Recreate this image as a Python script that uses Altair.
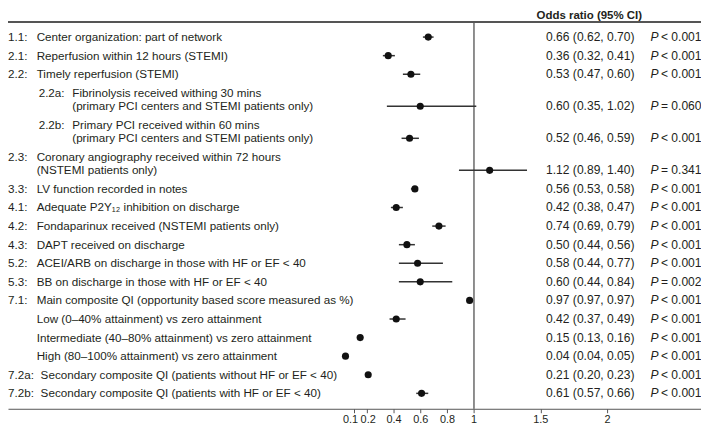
import altair as alt
import pandas as pd

# ---------------- data ----------------
codes = ["1.1:", "2.1:", "2.2:", "2.2a:", "2.2b:", "2.3:", "3.3:", "4.1:", "4.2:",
         "4.3:", "5.2:", "5.3:", "7.1:", "", "", "", "7.2a:", "7.2b:"]
levels = [0, 0, 0, 1, 1, 0, 0, 0, 0, 0, 0, 0, 0, 0, 0, 0, 0, 0]
labels = [
    ["Center organization: part of network"],
    ["Reperfusion within 12 hours (STEMI)"],
    ["Timely reperfusion (STEMI)"],
    ["Fibrinolysis received withing 30 mins", "(primary PCI centers and STEMI patients only)"],
    ["Primary PCI received within 60 mins", "(primary PCI centers and STEMI patients only)"],
    ["Coronary angiography received within 72 hours", "(NSTEMI patients only)"],
    ["LV function recorded in notes"],
    ["Adequate P2Y\u2081\u2082 inhibition on discharge"],
    ["Fondaparinux received (NSTEMI patients only)"],
    ["DAPT received on discharge"],
    ["ACEI/ARB on discharge in those with HF or EF < 40"],
    ["BB on discharge in those with HF or EF < 40"],
    ["Main composite QI (opportunity based score measured as %)"],
    ["Low (0\u201340% attainment) vs zero attainment"],
    ["Intermediate (40\u201380% attainment) vs zero attainment"],
    ["High (80\u2013100% attainment) vs zero attainment"],
    ["Secondary composite QI (patients without HF or EF < 40)"],
    ["Secondary composite QI (patients with HF or EF < 40)"],
]
odds = [0.66, 0.36, 0.53, 0.60, 0.52, 1.12, 0.56, 0.42, 0.74, 0.50, 0.58, 0.60,
        0.97, 0.42, 0.15, 0.04, 0.21, 0.61]
ci_low = [0.62, 0.32, 0.47, 0.35, 0.46, 0.89, 0.53, 0.38, 0.69, 0.44, 0.44, 0.44,
          0.97, 0.37, 0.13, 0.04, 0.20, 0.57]
ci_high = [0.70, 0.41, 0.60, 1.02, 0.59, 1.40, 0.58, 0.47, 0.79, 0.56, 0.77, 0.84,
           0.97, 0.49, 0.16, 0.05, 0.23, 0.66]
p_sign = ["<", "<", "<", "=", "<", "=", "<", "<", "<", "<", "<", "=",
          "<", "<", "<", "<", "<", "<"]
p_value = ["0.001", "0.001", "0.001", "0.060", "0.001", "0.341", "0.001", "0.001",
           "0.001", "0.001", "0.001", "0.002", "0.001", "0.001", "0.001", "0.001",
           "0.001", "0.001"]
tick_values = [0.1, 0.2, 0.4, 0.6, 0.8, 1, 1.5, 2]
header_text = "Odds ratio (95% CI)"

# ---------------- layout ----------------
W, H = 701, 403
X_ONE = 471          # pixel of OR = 1
PX_PER_UNIT = 135
FIRST_PX = 27
ROW_PX = 18.8
LINE_PX = 13.6
FONT = "Liberation Sans"
TXT = "#231f20"

def xv(px):
    return 1 + (px - X_ONE) / PX_PER_UNIT

x_min, x_max = xv(0), xv(W)
line_gap = LINE_PX / ROW_PX
y_min, y_max = -FIRST_PX / ROW_PX, (H - FIRST_PX) / ROW_PX

pos = []
cur = 0.0
for i, lines in enumerate(labels):
    if i > 0:
        cur += 1 + line_gap * (len(lines) - 1)
    pos.append(cur)

rows = pd.DataFrame({"y": pos, "x": odds, "lo": ci_low, "hi": ci_high,
                     "ortext": [f"{o:.2f} ({l:.2f}, {h:.2f})" for o, l, h in zip(odds, ci_low, ci_high)],
                     "ptext": [f"{s} {v}" for s, v in zip(p_sign, p_value)]})

text_rows = []
for i, lines in enumerate(labels):
    n = len(lines)
    first_y = pos[i] - line_gap * (n - 1)
    if levels[i] == 0:
        code_px, desc_px = 0, (33 if len(codes[i]) > 4 else 29)
    else:
        code_px, desc_px = 31, 65
    if codes[i]:
        text_rows.append({"x": xv(code_px), "y": first_y, "t": codes[i]})
    for k, ln in enumerate(lines):
        text_rows.append({"x": xv(desc_px), "y": first_y + line_gap * k, "t": ln})
text_df = pd.DataFrame(text_rows)

xs = alt.Scale(domain=[x_min, x_max], nice=False, zero=False)
ys = alt.Scale(domain=[y_min, y_max], nice=False, zero=False, reverse=True)
x_axis = alt.Axis(values=tick_values, format="~g", title=None, grid=False,
                  domainColor="#555", domainWidth=1, tickColor="#555", tickSize=4,
                  tickWidth=1, labelFont=FONT, labelFontSize=11, labelColor=TXT,
                  labelPadding=1, labelOverlap=False, labelFlush=False,
                  labelOffset={"condition": [
                      {"test": "datum.value == 0.1", "value": -3.5},
                      {"test": "datum.value == 0.2", "value": 0.8}],
                      "value": 0})

def X(field, **kw):
    return alt.X(field, scale=xs, axis=x_axis, **kw)

def Y(field):
    return alt.Y(field, scale=ys, axis=None)

base = alt.Chart(rows)

ci = base.mark_rule(color="#333", strokeWidth=1.5).encode(
    x=X("lo:Q"), x2="hi:Q", y=Y("y:Q"))
pts = base.mark_circle(size=52, color="#111", opacity=1).encode(
    x=X("x:Q"), y=Y("y:Q"))

ortext = base.transform_calculate(tx=f"{xv(589)}").mark_text(
    font=FONT, fontSize=12.2, color=TXT, align="center", baseline="middle").encode(
    x=X("tx:Q"), y=Y("y:Q"), text="ortext:N")
p_italic = base.transform_calculate(tx=f"{xv(650)}", pp="'P'").mark_text(
    font=FONT, fontSize=12.2, color=TXT, align="left", baseline="middle",
    fontStyle="italic").encode(x=X("tx:Q"), y=Y("y:Q"), text="pp:N")
p_rest = base.transform_calculate(tx=f"{xv(660.5)}").mark_text(
    font=FONT, fontSize=12.2, color=TXT, align="left", baseline="middle").encode(
    x=X("tx:Q"), y=Y("y:Q"), text="ptext:N")

lbl = alt.Chart(text_df).mark_text(
    font=FONT, fontSize=11.8, color=TXT, align="left", baseline="middle").encode(
    x=X("x:Q"), y=Y("y:Q"), text="t:N")

ref = alt.Chart(rows).mark_rule(color="#8a8a8a", strokeWidth=1).encode(
    x=alt.X(datum=1, scale=xs, axis=x_axis), y=alt.value(12), y2=alt.value(H))
top_line = alt.Chart(rows).mark_rule(color="#555", strokeWidth=1).encode(
    x=alt.value(0), x2=alt.value(W), y=alt.value(12))
header = alt.Chart(pd.DataFrame({"t": [header_text]})).mark_text(
    font=FONT, fontSize=11.6, fontWeight="bold", color=TXT, align="center",
    baseline="alphabetic").encode(x=alt.value(588), y=alt.value(8.5), text="t:N")

chart = alt.layer(ref, top_line, header, ci, pts, lbl, ortext, p_italic, p_rest).properties(
    width=W, height=H,
    autosize=alt.AutoSizeParams(type="none"),
    padding={"left": 0, "right": 0, "top": 0, "bottom": 14},
).configure_view(stroke=None)

chart.save("out.html", embed_options={"renderer": "svg", "actions": False})
